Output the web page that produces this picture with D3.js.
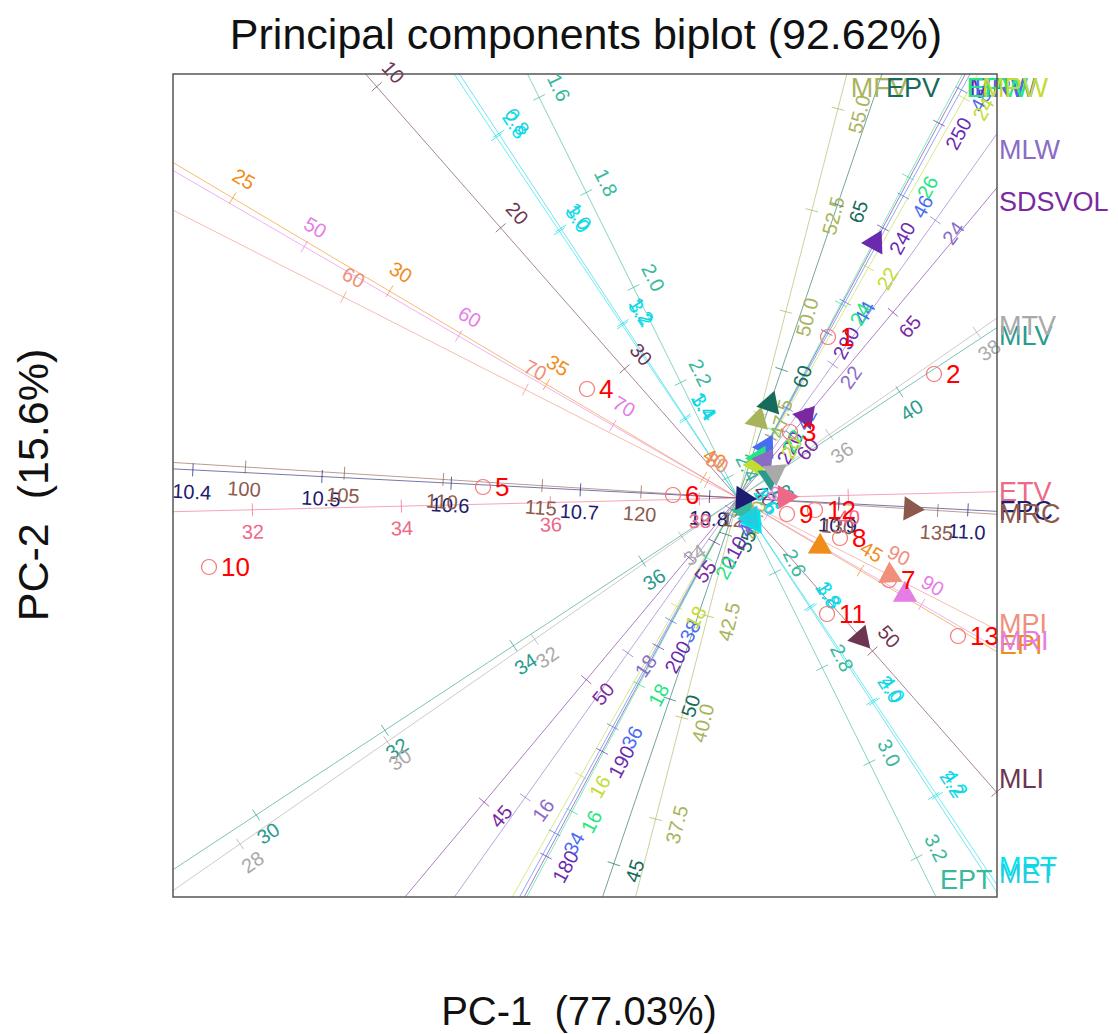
<!DOCTYPE html>
<html>
<head>
<meta charset="utf-8">
<title>Principal components biplot</title>
<script src="https://cdn.jsdelivr.net/npm/d3@7"></script>
<style>
	body { margin: 0; background: #fff; }
	text { font-family: "Liberation Sans", Arial, sans-serif; }
</style>
</head>
<body>
<div id="vis"></div>
<script type="text/javascript">
// sample scores on PC-1 / PC-2
var sampleLabels = ["1", "2", "3", "4", "5", "6", "7", "8", "9", "10", "11", "12", "13"];
var sampleX = [0.90, 1.96, 0.52, -1.51, -2.55, -0.65, 1.51, 1.02, 0.49, -5.29, 0.89, 0.77, 2.20];
var sampleY = [1.61, 1.24, 0.66, 1.09, 0.11, 0.03, -0.82, -0.40, -0.16, -0.69, -1.16, -0.12, -1.38];

// calibrated variable axes
var varNames = ["MLI", "EPT", "MRT", "MET", "EPI", "MRI", "MPI", "FPC", "MRC", "ETV",
	"MFV", "EPV", "MRW", "ERW", "EPW", "MPW", "MLW", "SDSVOL", "MLV", "MTV"];
var varColors = ["#6e3552", "#38b89c", "#00e4ee", "#1ecfe0", "#f08c18", "#e47ee6", "#f0907c", "#1c1c70", "#8c5a4c", "#ee6888",
	"#a8b45c", "#156b5c", "#6a2ab0", "#4a6cf0", "#22e680", "#c2dc32", "#8a6cc6", "#7a2a9e", "#2a9a8c", "#a9a9a9"];
// direction of increasing values (degrees, PC space)
var varAngles = [-48.7, -63.6, -56.2, -56.7, -30.7, -30.1, -27.0, -2.95, -3.6, 1.39,
	75.6, 71.25, 61.8, 61.3, 62.1, 60.5, 54.6, 50.15, 33.34, 34.79];
// variable value at the origin
var varMeans = [39.15, 2.443, 3.567, 1.57, 41.1, 78.1, 81.7, 10.822, 124.9, 38.52,
	45.41, 56.1, 214.2, 40.31, 20.94, 19.28, 20.15, 57.42, 37.49, 34.76];
// PC units per one unit of the variable
var varUnitLen = [0.1878, 5.305, 5.66, 5.66, 0.365, 0.1784, 0.204, 12.935, 0.1982, 0.745,
	0.419, 0.348, 0.1188, 0.605, 0.718, 0.973, 0.885, 0.319, 0.77, 0.897];
var varTicks = [
	[10, 20, 30, 40, 50, 60],
	[1.6, 1.8, 2.0, 2.2, 2.4, 2.6, 2.8, 3.0, 3.2],
	[2.8, 3.0, 3.2, 3.4, 3.6, 3.8, 4.0, 4.2],
	[0.8, 1.0, 1.2, 1.4, 1.6, 1.8, 2.0, 2.2],
	[25, 30, 35, 40, 45],
	[50, 60, 70, 80, 90],
	[60, 70, 80, 90],
	[10.4, 10.5, 10.6, 10.7, 10.8, 10.9, 11.0],
	[100, 105, 110, 115, 120, 125, 130, 135],
	[32, 34, 36, 38, 40],
	[37.5, 40.0, 42.5, 45.0, 47.5, 50.0, 52.5, 55.0],
	[45, 50, 55, 60, 65],
	[180, 190, 200, 210, 220, 230, 240, 250],
	[34, 36, 38, 40, 42, 44, 46, 48],
	[16, 18, 20, 22, 24, 26],
	[16, 18, 20, 22, 24],
	[16, 18, 20, 22, 24],
	[45, 50, 55, 60, 65],
	[30, 32, 34, 36, 38, 40],
	[28, 30, 32, 34, 36, 38]
];
var tickDecimals = [0, 1, 1, 1, 0, 0, 0, 1, 0, 0, 1, 0, 0, 0, 0, 0, 0, 0, 0, 0];
// arrow heads (loadings) in PC space
var arrowX = [1.23, 0.065, 0.16, 0.13, 0.82, 1.67, 1.52, 0.05, 1.73, 0.47,
	0.20, 0.32, 1.37, 0.28, 0.21, 0.185, 0.27, 0.68, 0.32, 0.37];
var arrowY = [-1.40, -0.13, -0.24, -0.20, -0.487, -0.968, -0.774, -0.003, -0.109, 0.011,
	0.78, 0.94, 2.555, 0.51, 0.40, 0.33, 0.38, 0.815, 0.21, 0.257];

var W = 1118, H = 1034;
var box = { left: 173, right: 997, top: 74, bottom: 897 };

var svg = d3.select("#vis").append("svg").attr("width", W).attr("height", H);
svg.append("rect").attr("width", W).attr("height", H).attr("fill", "#fff");

var x = d3.scaleLinear().domain([-5.65, 2.59]).range([box.left, box.right]);
var y = d3.scaleLinear().domain([-3.99, 4.24]).range([box.bottom, box.top]);
var xd = x.domain(), yd = y.domain();

function inBox(px, py, m){
	m = m || 0;
	return px > box.left - m && px < box.right + m && py > box.top - m && py < box.bottom + m;
}

svg.append("clipPath").attr("id", "plotclip")
	.append("rect").attr("x", box.left).attr("y", box.top)
	.attr("width", box.right - box.left).attr("height", box.bottom - box.top);

// build the axis geometry from the arrays
var axes = varNames.map(function(name, i){
	var a = varAngles[i] * Math.PI / 180;
	var ux = Math.cos(a), uy = Math.sin(a);
	// clip the infinite line t*u to the plot window
	var tmin = -Infinity, tmax = Infinity;
	[[ux, xd[0], xd[1]], [uy, yd[0], yd[1]]].forEach(function(s){
		if (Math.abs(s[0]) < 1e-9) return;
		var t1 = s[1] / s[0], t2 = s[2] / s[0];
		tmin = Math.max(tmin, Math.min(t1, t2));
		tmax = Math.min(tmax, Math.max(t1, t2));
	});
	// screen direction and label side
	var dx = ux, dy = -uy;
	var side = dy > 0.3 ? [dy, -dx] : [-dy, dx];
	var ticks = varTicks[i].map(function(v){
		var t = (v - varMeans[i]) * varUnitLen[i];
		var px = x(t * ux), py = y(t * uy);
		return { v: v, px: px, py: py, lx: px + side[0] * 22, ly: py + side[1] * 22 };
	}).filter(function(d){ return inBox(d.px, d.py); });
	return {
		name: name, color: varColors[i], i: i,
		dx: dx, dy: dy, side: side, rot: Math.atan2(dy, dx) * 180 / Math.PI,
		x1: x(tmin * ux), y1: y(tmin * uy), x2: x(tmax * ux), y2: y(tmax * uy),
		ticks: ticks
	};
});

var gLines = svg.append("g").attr("clip-path", "url(#plotclip)");
gLines.selectAll("line").data(axes).enter().append("line")
	.attr("x1", function(d){ return d.x1; })
	.attr("y1", function(d){ return d.y1; })
	.attr("x2", function(d){ return d.x2; })
	.attr("y2", function(d){ return d.y2; })
	.attr("stroke", function(d){ return d.color; })
	.attr("stroke-opacity", 0.6)
	.attr("stroke-width", 1);

// tick marks + tick labels
axes.forEach(function(ax){
	var g = svg.append("g");
	var tl = 6.5;
	g.selectAll("line").data(ax.ticks).enter().append("line")
		.attr("x1", function(d){ return d.px - ax.side[0] * tl; })
		.attr("y1", function(d){ return d.py - ax.side[1] * tl; })
		.attr("x2", function(d){ return d.px + ax.side[0] * tl; })
		.attr("y2", function(d){ return d.py + ax.side[1] * tl; })
		.attr("stroke", ax.color)
		.attr("stroke-opacity", 0.7)
		.attr("stroke-width", 1);
	g.selectAll("text").data(ax.ticks.filter(function(d){ return inBox(d.lx, d.ly, 6); }))
		.enter().append("text")
		.attr("transform", function(d){
			return "translate(" + d.lx + "," + d.ly + ") rotate(" + ax.rot + ")";
		})
		.attr("text-anchor", "middle")
		.attr("dominant-baseline", "central")
		.attr("font-size", 20)
		.attr("fill", ax.color)
		.text(function(d){ return d.v.toFixed(tickDecimals[ax.i]); });
});

// samples
svg.append("g").selectAll("circle").data(sampleLabels).enter().append("circle")
	.attr("cx", function(d, i){ return x(sampleX[i]); })
	.attr("cy", function(d, i){ return y(sampleY[i]); })
	.attr("r", 7.5)
	.attr("fill", "none")
	.attr("stroke", "#f47878")
	.attr("stroke-width", 1.2);

// arrow head triangles pointing along each axis
svg.append("g").selectAll("path").data(axes).enter().append("path")
	.attr("d", function(ax){
		var cx = x(arrowX[ax.i]), cy = y(arrowY[ax.i]);
		var phi = Math.atan2(ax.dy, ax.dx), r = 14;
		var pts = [0, 1, 2].map(function(k){
			var a = phi + k * 2 * Math.PI / 3;
			return [cx + r * Math.cos(a), cy + r * Math.sin(a)];
		});
		return d3.line()(pts) + "Z";
	})
	.attr("fill", function(ax){ return ax.color; });

// sample labels
svg.append("g").selectAll("text").data(sampleLabels).enter().append("text")
	.attr("x", function(d, i){ return x(sampleX[i]) + 12; })
	.attr("y", function(d, i){ return y(sampleY[i]); })
	.attr("dominant-baseline", "central")
	.attr("font-size", 26)
	.attr("fill", "#ff0000")
	.text(function(d){ return d; });

// variable names at the positive end of each axis
svg.append("g").selectAll("text").data(axes).enter().append("text")
	.attr("x", function(d){
		if (d.x2 >= box.right - 0.5) return box.right + 2;
		return d.x2 + 4;
	})
	.attr("y", function(d){
		if (d.x2 >= box.right - 0.5) return d.y2 - 12 * d.dy / d.dx;
		if (d.y2 <= box.top + 0.5) return box.top + 14;
		return box.bottom - 17;
	})
	.attr("dominant-baseline", "central")
	.attr("font-size", 27)
	.attr("fill", function(d){ return d.color; })
	.text(function(d){ return d.name; });

// frame
svg.append("rect")
	.attr("x", box.left).attr("y", box.top)
	.attr("width", box.right - box.left).attr("height", box.bottom - box.top)
	.attr("fill", "none").attr("stroke", "#555").attr("stroke-width", 1.5);

svg.append("text").attr("x", 586).attr("y", 34)
	.attr("text-anchor", "middle").attr("dominant-baseline", "central")
	.attr("font-size", 43).attr("fill", "#111")
	.text("Principal components biplot (92.62%)");
svg.append("text").attr("x", 579).attr("y", 1011)
	.attr("text-anchor", "middle").attr("dominant-baseline", "central")
	.attr("font-size", 40).attr("fill", "#111").style("white-space", "pre")
	.text("PC-1  (77.03%)");
svg.append("text").attr("transform", "translate(33,485) rotate(-90)")
	.attr("text-anchor", "middle").attr("dominant-baseline", "central")
	.attr("font-size", 43).attr("fill", "#111").style("white-space", "pre")
	.text("PC-2  (15.6%)");
</script>
</body>
</html>
